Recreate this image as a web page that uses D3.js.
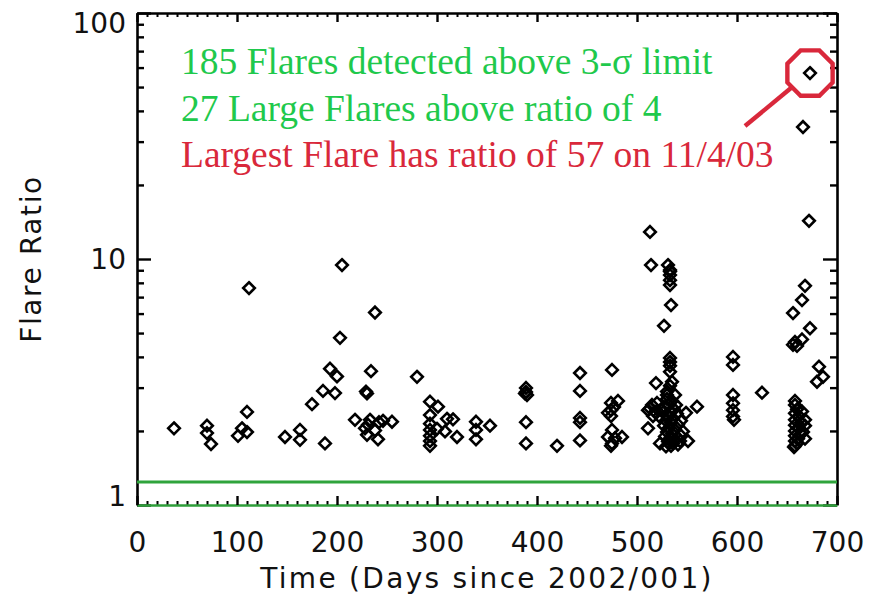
<!DOCTYPE html>
<html lang="en">
<head>
<meta charset="UTF-8">
<title>Flare Ratio</title>
<script src="https://d3js.org/d3.v7.min.js"></script>
<style>
    body { margin: 0; background: #fff; }
    svg { display: block; }
    .tick text { font-family: "DejaVu Sans", sans-serif; font-size: 28px; fill: #111; }
    .axis-title { font-family: "DejaVu Sans", sans-serif; font-size: 28px; fill: #111; }
    .note { font-family: "Liberation Serif", "Times New Roman", serif; font-size: 37.5px; }
</style>
</head>
<body>
<svg id="chart" width="880" height="597"></svg>
<script>
// tick values
const xTicks = [0, 100, 200, 300, 400, 500, 600, 700];
const yTicks = [1, 10, 100];
const limitRatio = 1.24;   // 3-sigma line

// flares: day since 2002/001, flare ratio
const flareDay = [
    37, 70, 70, 74, 101, 105, 110, 110, 112,
    148, 163, 163, 175, 186, 198, 193, 200, 188, 205, 203,
    218, 229, 230, 233, 230, 234, 238, 242, 241, 255, 238, 228, 231, 246,
    280, 293, 301, 293, 293, 293, 293, 293, 293, 300, 310, 308, 316, 320,
    339, 339, 339, 353, 389, 389, 390, 388, 389, 389, 420,
    443, 443, 443, 443, 443,
    475, 474, 474, 481, 474, 471, 475, 471, 478, 475, 474, 485, 477,
    513, 514, 519, 515, 511, 518, 511, 523, 513, 516,
    531, 533, 533, 533, 533, 533, 534, 527, 533, 533, 533, 533, 535, 533, 530, 538,
    530, 535, 532, 528, 537, 533, 526, 540, 531, 536, 529, 534, 541, 527, 532, 538,
    530, 535, 543, 528, 533, 538, 531, 536, 541, 534, 529, 546, 524, 520, 522, 544, 539, 530,
    560, 549, 551, 543,
    596, 596, 596, 596, 596, 596, 597, 625,
    656, 665, 668, 673, 658, 660, 665, 656, 682, 686, 680,
    658, 658, 660, 658, 662, 658, 664, 658, 662, 658, 664, 658, 661, 658, 660, 658, 657,
    668, 668, 666, 668, 665,
    672, 666, 673
];
const flareRatio = [
    2.05, 2.10, 1.96, 1.77, 1.91, 2.05, 1.98, 2.39, 7.62,
    1.89, 2.02, 1.84, 2.57, 2.91, 2.85, 3.58, 3.33, 1.78, 9.45, 4.78,
    2.22, 2.89, 2.84, 2.22, 1.93, 3.50, 6.06, 2.17, 1.85, 2.18, 2.01, 2.05, 2.12, 2.20,
    3.32, 2.63, 2.51, 2.32, 2.14, 2.02, 1.91, 1.82, 1.74, 2.04, 2.24, 1.99, 2.23, 1.89,
    2.18, 2.02, 1.85, 2.10, 2.99, 2.88, 2.80, 2.84, 2.17, 1.78, 1.74,
    3.44, 2.91, 2.26, 2.17, 1.83,
    3.54, 2.60, 2.43, 2.65, 2.30, 2.37, 2.02, 1.89, 1.87, 1.78, 1.74, 1.89, 2.50,
    12.88, 9.45, 3.13, 2.55, 2.43, 2.39, 2.05, 1.78, 2.47, 2.30,
    9.45, 9.02, 8.90, 8.60, 8.20, 7.84, 6.50, 5.35, 3.96, 3.81, 3.68, 3.48, 3.17, 3.05, 2.89, 2.80,
    2.70, 2.65, 2.55, 2.50, 2.45, 2.40, 2.38, 2.35, 2.30, 2.25, 2.20, 2.16, 2.12, 2.10, 2.06, 2.02,
    1.98, 1.95, 1.93, 1.90, 1.87, 1.84, 1.81, 1.78, 1.76, 1.74, 1.73, 1.99, 2.45, 2.60, 2.30, 2.20, 2.55, 2.80,
    2.51, 2.37, 1.82, 1.82,
    4.00, 3.71, 2.80, 2.59, 2.43, 2.29, 2.22, 2.86,
    6.03, 6.81, 7.78, 5.23, 4.60, 4.43, 4.71, 4.48, 3.65, 3.32, 3.17,
    2.65, 2.55, 2.45, 2.36, 2.30, 2.22, 2.16, 2.11, 2.05, 2.00, 1.95, 1.91, 1.86, 1.82, 1.78, 1.74, 1.72,
    2.22, 2.10, 1.98, 1.86, 2.40,
    14.3, 34.4, 57
];

const notes = [
    { text: "185 Flares detected above 3-\u03c3 limit", color: "#1fc94c" },
    { text: "27 Large Flares above ratio of 4", color: "#1fc94c" },
    { text: "Largest Flare has ratio of 57 on 11/4/03", color: "#d9283b" }
];
const largest = { day: 673, ratio: 57 };

const svg = d3.select("#chart");
const plotLeft = 137, plotRight = 837, plotTop = 13, plotBottom = 505;

const x = d3.scaleLinear().domain([0, 700]).range([plotLeft, plotRight]);
const y = d3.scaleLog().domain([1, 100]).range([plotBottom, plotTop]);

const xMinor = d3.range(0, 701, 10).filter(d => d % 100 !== 0);
const yMinor = [2, 3, 4, 5, 6, 7, 8, 9, 20, 30, 40, 50, 60, 70, 80, 90];

function styleAxis(g, color) {
    g.select(".domain").attr("stroke", color || "#000").attr("stroke-width", 2.6);
    g.selectAll(".tick line").attr("stroke", "#000").attr("stroke-width", 2.4);
}

// minor ticks
svg.append("g").attr("transform", `translate(0,${plotBottom})`)
    .call(d3.axisBottom(x).tickValues(xMinor).tickSize(-4).tickFormat(""))
    .call(g => { g.select(".domain").remove(); g.selectAll(".tick line").attr("stroke-width", 2); });
svg.append("g").attr("transform", `translate(0,${plotTop})`)
    .call(d3.axisTop(x).tickValues(xMinor).tickSize(-4).tickFormat(""))
    .call(g => { g.select(".domain").remove(); g.selectAll(".tick line").attr("stroke-width", 2); });
svg.append("g").attr("transform", `translate(${plotLeft},0)`)
    .call(d3.axisLeft(y).tickValues(yMinor).tickSize(-7).tickFormat(""))
    .call(g => { g.select(".domain").remove(); g.selectAll(".tick line").attr("stroke-width", 2.4); });
svg.append("g").attr("transform", `translate(${plotRight},0)`)
    .call(d3.axisRight(y).tickValues(yMinor).tickSize(-7).tickFormat(""))
    .call(g => { g.select(".domain").remove(); g.selectAll(".tick line").attr("stroke-width", 2.4); });

// major axes
svg.append("g").attr("transform", `translate(0,${plotTop})`)
    .call(d3.axisTop(x).tickValues(xTicks).tickSize(-9).tickSizeOuter(0).tickFormat(""))
    .call(g => styleAxis(g));
svg.append("g").attr("transform", `translate(${plotRight},0)`)
    .call(d3.axisRight(y).tickValues(yTicks).tickSize(-14).tickSizeOuter(0).tickFormat(""))
    .call(g => styleAxis(g));
svg.append("g").attr("transform", `translate(${plotLeft},0)`)
    .call(d3.axisLeft(y).tickValues(yTicks).tickSize(-14).tickSizeOuter(0).tickPadding(11).tickFormat(d3.format("d")))
    .call(g => styleAxis(g))
    .call(g => g.selectAll(".tick text").attr("dy", d => d === 100 ? "0.71em" : d === 10 ? "0.34em" : "0"));
svg.append("g").attr("transform", `translate(0,${plotBottom})`)
    .call(d3.axisBottom(x).tickValues(xTicks).tickSize(-9).tickSizeOuter(0).tickPadding(27))
    .call(g => styleAxis(g, "#2e9e3a"));

// 3-sigma limit line
svg.append("line")
    .attr("x1", plotLeft).attr("x2", plotRight)
    .attr("y1", y(limitRatio)).attr("y2", y(limitRatio))
    .attr("stroke", "#2fa43c").attr("stroke-width", 2.8);

// flares
const flares = flareDay.map((d, i) => ({ day: d, ratio: flareRatio[i] }));
svg.append("g").selectAll("path")
    .data(flares)
    .join("path")
    .attr("transform", d => `translate(${x(d.day)},${y(d.ratio)})`)
    .attr("d", "M0,-5.8L5.8,0L0,5.8L-5.8,0Z")
    .attr("fill", "none")
    .attr("stroke", "#000")
    .attr("stroke-width", 2.6);

// axis titles
svg.append("text").attr("class", "axis-title")
    .attr("x", 487).attr("y", 588)
    .attr("text-anchor", "middle")
    .style("letter-spacing", "2.3px")
    .text("Time (Days since 2002/001)");
svg.append("text").attr("class", "axis-title")
    .attr("transform", "translate(41,259) rotate(-90)")
    .attr("text-anchor", "middle")
    .style("letter-spacing", "1.6px")
    .text("Flare Ratio");

// annotation text
svg.append("g").selectAll("text")
    .data(notes)
    .join("text")
    .attr("class", "note")
    .attr("x", 181)
    .attr("y", (d, i) => 74 + i * 46.5)
    .attr("fill", d => d.color)
    .text(d => d.text);

// red octagon round the largest flare
const cx = x(largest.day), cy = y(largest.ratio);
const octR = 24.5;
const oct = d3.range(8).map(k => {
    const a = (k * 45 + 22.5) * Math.PI / 180;
    return [cx + octR * Math.cos(a), cy + octR * Math.sin(a)];
});
svg.append("path")
    .attr("d", d3.line()(oct) + "Z")
    .attr("fill", "none")
    .attr("stroke", "#d9283b")
    .attr("stroke-width", 4.4);
svg.append("line")
    .attr("x1", cx - 65).attr("y1", cy + 53)
    .attr("x2", cx - 19).attr("y2", cy + 15)
    .attr("stroke", "#d9283b")
    .attr("stroke-width", 4.4);
</script>
</body>
</html>
